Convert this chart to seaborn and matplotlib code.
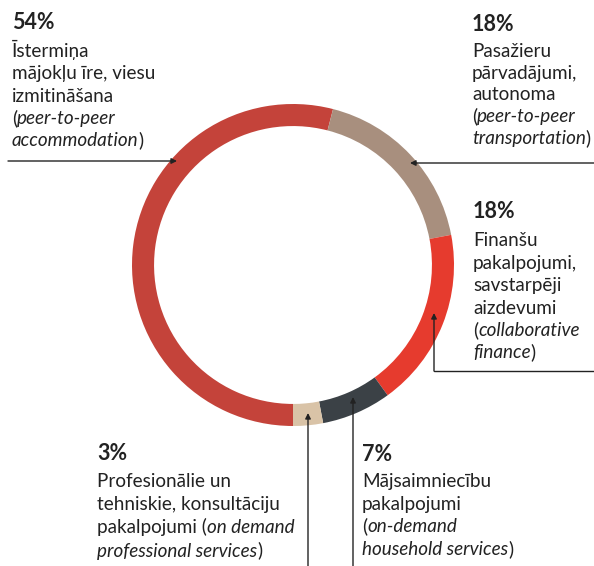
import matplotlib
matplotlib.use("Agg")
import matplotlib.pyplot as plt
import seaborn as sns

sns.set_theme(style="white")
plt.rcParams["font.family"] = ["Lato", "DejaVu Sans"]

# ---- data ----
categories = ["peer-to-peer accommodation", "peer-to-peer transportation",
              "collaborative finance", "on-demand household services",
              "on demand professional services"]
shares = [54, 18, 18, 7, 3]
pct_labels = ["54%", "18%", "18%", "7%", "3%"]
colors = ["#c4433a", "#a88f7e", "#e63b2e", "#3b4146", "#d9c3a7"]

N, I = "normal", "italic"
label_lines = [
    [[("Īstermiņa", N)], [("mājokļu īre, viesu", N)], [("izmitināšana", N)],
     [("(", N), ("peer-to-peer", I)], [("accommodation", I), (")", N)]],
    [[("Pasažieru", N)], [("pārvadājumi,", N)], [("autonoma", N)],
     [("(", N), ("peer-to-peer", I)], [("transportation", I), (")", N)]],
    [[("Finanšu", N)], [("pakalpojumi,", N)], [("savstarpēji", N)], [("aizdevumi", N)],
     [("(", N), ("collaborative", I)], [("finance", I), (")", N)]],
    [[("Mājsaimniecību", N)], [("pakalpojumi", N)], [("(", N), ("on-demand", I)],
     [("household services", I), (")", N)]],
    [[("Profesionālie un", N)], [("tehniskie, konsultāciju", N)],
     [("pakalpojumi (", N), ("on demand", I)], [("professional services", I), (")", N)]],
]

# ---- layout ----
W, H = 594, 566
fig = plt.figure(figsize=(W / 100, H / 100), dpi=100)
fig.patch.set_facecolor("white")
TXT = "#222222"

cx, cy, R = 293, 265, 161
ax = fig.add_axes([(cx - R) / W, 1 - (cy + R) / H, 2 * R / W, 2 * R / H])
ax.pie(shares, colors=sns.color_palette(colors), startangle=-90, counterclock=False,
       radius=1, wedgeprops=dict(width=0.137, linewidth=0))
ax.set_xlim(-1, 1)
ax.set_ylim(-1, 1)
ax.set_aspect("equal")
ax.axis("off")


def fp(x, y):
    return (x / W, 1 - y / H)


renderer = fig.canvas.get_renderer()
BODY = 13.6
TITLE = 15.5


def block(x, y_title, y_first, gap, pct, lines):
    fig.text(*fp(x, y_title), pct, fontsize=TITLE, fontweight="bold",
             color=TXT, va="baseline", ha="left")
    for i, segs in enumerate(lines):
        y = y_first + i * gap
        cur = x
        for txt, st in segs:
            t = fig.text(*fp(cur, y), txt, fontsize=BODY, fontstyle=st,
                         color=TXT, va="baseline", ha="left")
            cur += t.get_window_extent(renderer).width


block(12, 29, 57, 22.3, pct_labels[0], label_lines[0])
block(472, 31, 57, 21.7, pct_labels[1], label_lines[1])
block(473, 218, 246, 22.5, pct_labels[2], label_lines[2])
block(362, 461, 487, 22.7, pct_labels[3], label_lines[3])
block(97, 460, 487, 23.2, pct_labels[4], label_lines[4])

# ---- leader lines ----
ap = dict(arrowstyle="-|>", color=TXT, lw=1.0, mutation_scale=8,
          shrinkA=0, shrinkB=0)


def arrow(x0, y0, x1, y1):
    fig.add_artist(matplotlib.patches.FancyArrowPatch(
        fp(x0, y0), fp(x1, y1), transform=fig.transFigure, **ap))


arrow(8, 161, 177, 161)
arrow(594, 163, 410, 163)
fig.add_artist(plt.Line2D([594 / W, 434 / W], [1 - 371 / H, 1 - 371 / H],
                          transform=fig.transFigure, color=TXT, lw=1.0))
arrow(434, 371, 434, 313)
arrow(308, 566, 308, 413)
arrow(353, 566, 353, 397)

fig.savefig("out.png", dpi=100, facecolor="white")
